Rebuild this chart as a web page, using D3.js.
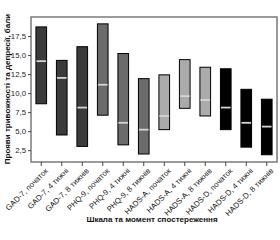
<!DOCTYPE html>
<html>
<head>
<meta charset="utf-8">
<script src="https://cdn.jsdelivr.net/npm/d3@7"></script>
<style>
body { margin: 0; background: #fff; }
.axis text { font: 7.8px "Liberation Sans Narrow", "Arial Narrow", "Liberation Sans", sans-serif; fill: #222; }
.title { font: bold 8px "Liberation Sans Narrow", "Arial Narrow", "Liberation Sans", sans-serif; fill: #111; }
</style>
</head>
<body>
<script>
var categories = ["GAD-7, початок", "GAD-7, 4 тижні", "GAD-7, 8 тижнів",
	"PHQ-9, початок", "PHQ-9, 4 тижні", "PHQ-9, 8 тижнів",
	"HADS-A, початок", "HADS-A, 4 тижні", "HADS-A, 8 тижнів",
	"HADS-D, початок", "HADS-D, 4 тижні", "HADS-D, 8 тижнів"];
var lows = [8.6, 4.5, 3.0, 7.1, 3.2, 2.0, 5.2, 8.0, 7.0, 5.2, 2.9, 1.9];
var highs = [18.7, 14.3, 16.1, 19.1, 15.2, 11.9, 12.4, 14.4, 13.4, 13.2, 10.5, 9.2];
var medians = [14.2, 12.0, 8.1, 11.1, 6.1, 5.2, 7.0, 9.6, 9.1, 8.1, 6.1, 5.6];
var groups = ["GAD-7", "GAD-7", "GAD-7", "PHQ-9", "PHQ-9", "PHQ-9",
	"HADS-A", "HADS-A", "HADS-A", "HADS-D", "HADS-D", "HADS-D"];
var yTicks = [2.5, 5, 7.5, 10, 12.5, 15, 17.5];

var margin = {left: 31, top: 17, right: 3, bottom: 78};
var width = 280 - margin.left - margin.right;
var height = 240 - margin.top - margin.bottom;

var svg = d3.select("body").append("svg")
	.attr("width", 280)
	.attr("height", 240);
var g = svg.append("g")
	.attr("transform", "translate(" + margin.left + "," + margin.top + ")");

var x = d3.scaleBand().domain(categories).range([0, width]).paddingInner(0.48).paddingOuter(0.24);
var y = d3.scaleLinear().domain([0.95, 20]).range([height, 0]);
var fill = d3.scaleOrdinal()
	.domain(["GAD-7", "PHQ-9", "HADS-A", "HADS-D"])
	.range(["#3b3b3b", "#6b6b6b", "#ababab", "#000000"]);

// frame
g.append("rect")
	.attr("width", width).attr("height", height)
	.attr("fill", "none").attr("stroke", "#7a7a7a").attr("stroke-width", 1.5);

var fmt = function(d) { return d3.format(".1f")(d).replace(".", ","); };
var ya = g.append("g").attr("class", "axis")
	.call(d3.axisLeft(y).tickValues(yTicks).tickSize(3).tickPadding(2).tickFormat(fmt));
ya.select(".domain").remove();
ya.selectAll("line").attr("stroke", "#444");

var xa = g.append("g").attr("class", "axis")
	.attr("transform", "translate(0," + height + ")")
	.call(d3.axisBottom(x).tickSize(4));
xa.select(".domain").remove();
xa.selectAll("line").attr("stroke", "#444");
xa.selectAll("text")
	.attr("text-anchor", "end")
	.attr("dx", "-0.2em").attr("dy", "0.6em")
	.attr("transform", "rotate(-45)");

var bar = g.selectAll(".bar").data(categories).enter().append("g").attr("class", "bar");
bar.append("rect")
	.attr("x", function(d) { return x(d); })
	.attr("width", x.bandwidth())
	.attr("y", function(d, i) { return y(highs[i]); })
	.attr("height", function(d, i) { return y(lows[i]) - y(highs[i]); })
	.attr("fill", function(d, i) { return fill(groups[i]); })
	.attr("stroke", "#000").attr("stroke-width", 1);
bar.append("line")
	.attr("x1", function(d) { return x(d) + 0.5; })
	.attr("x2", function(d) { return x(d) + x.bandwidth() - 0.5; })
	.attr("y1", function(d, i) { return y(medians[i]); })
	.attr("y2", function(d, i) { return y(medians[i]); })
	.attr("stroke", "#d4d4d4").attr("stroke-width", 1.8);

svg.append("text").attr("class", "title")
	.attr("x", 152).attr("y", 222)
	.attr("text-anchor", "middle")
	.text("Шкала та момент спостереження");
svg.append("text").attr("class", "title")
	.attr("transform", "translate(10,89) rotate(-90)")
	.attr("text-anchor", "middle")
	.text("Прояви тривожності та депресії, бали");
</script>
</body>
</html>
